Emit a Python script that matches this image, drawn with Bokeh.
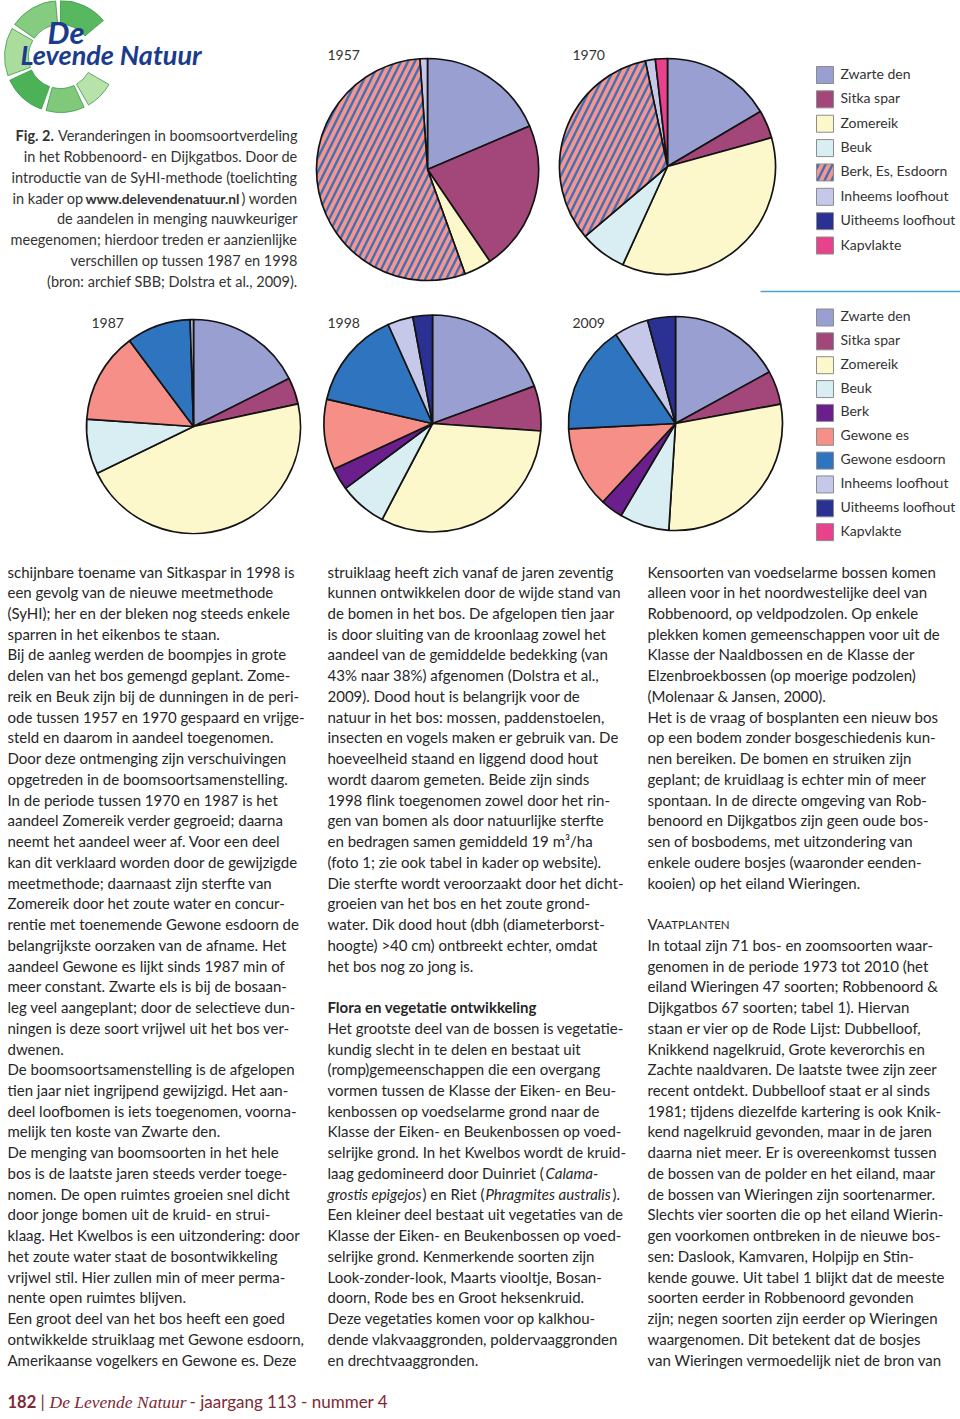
import numpy as np
from bokeh.plotting import figure
from bokeh.models import Range1d, ColumnDataSource
from bokeh.core.properties import value
from bokeh.embed import file_html
from bokeh.resources import INLINE

# ---------------- data ----------------
top_categories = ["Zwarte den", "Sitka spar", "Zomereik", "Beuk", "Berk, Es, Esdoorn",
                  "Inheems loofhout", "Uitheems loofhout", "Kapvlakte"]
top_colors = ["#9a9fd2", "#a3477a", "#fcf8cc", "#d9eef2", "#f4958f",
              "#c5c8e8", "#2a3192", "#e8428c"]
top_hatched = [False, False, False, False, True, False, False, False]
share_1957 = [18.6, 21.9, 4.0, 0.0, 54.4, 1.1, 0.0, 0.0]
share_1970 = [16.5, 4.2, 36.1, 7.0, 32.9, 1.5, 0.0, 1.8]

bottom_categories = ["Zwarte den", "Sitka spar", "Zomereik", "Beuk", "Berk", "Gewone es",
                     "Gewone esdoorn", "Inheems loofhout", "Uitheems loofhout", "Kapvlakte"]
bottom_colors = ["#9a9fd2", "#a3477a", "#fcf8cc", "#d9eef2", "#6a1f8c", "#f58f88",
                 "#2e74bf", "#c5c8e8", "#2a3192", "#e8428c"]
share_1987 = [17.6, 4.0, 46.2, 8.3, 0.0, 13.7, 9.7, 0.5, 0.0, 0.0]
share_1998 = [19.4, 6.7, 31.6, 7.1, 3.3, 10.5, 14.7, 3.8, 2.9, 0.0]
share_2009 = [17.0, 5.1, 28.9, 7.5, 3.4, 12.3, 16.4, 5.2, 4.2, 0.0]

caption_lines = [
    "Fig. 2. Veranderingen in boomsoortverdeling",
    "in het Robbenoord- en Dijkgatbos. Door de",
    "introductie van de SyHI-methode (toelichting",
    "in kader op www.delevendenatuur.nl) worden",
    "de aandelen in menging nauwkeuriger",
    "meegenomen; hierdoor treden er aanzienlijke",
    "verschillen op tussen 1987 en 1998",
    "(bron: archief SBB; Dolstra et al., 2009).",
]

col1_lines = [
    "schijnbare toename van Sitkaspar in 1998 is",
    "een gevolg van de nieuwe meetmethode",
    "(SyHI); her en der bleken nog steeds enkele",
    "sparren in het eikenbos te staan.",
    "Bij de aanleg werden de boompjes in grote",
    "delen van het bos gemengd geplant. Zome-",
    "reik en Beuk zijn bij de dunningen in de peri-",
    "ode tussen 1957 en 1970 gespaard en vrijge-",
    "steld en daarom in aandeel toegenomen.",
    "Door deze ontmenging zijn verschuivingen",
    "opgetreden in de boomsoortsamenstelling.",
    "In de periode tussen 1970 en 1987 is het",
    "aandeel Zomereik verder gegroeid; daarna",
    "neemt het aandeel weer af. Voor een deel",
    "kan dit verklaard worden door de gewijzigde",
    "meetmethode; daarnaast zijn sterfte van",
    "Zomereik door het zoute water en concur-",
    "rentie met toenemende Gewone esdoorn de",
    "belangrijkste oorzaken van de afname. Het",
    "aandeel Gewone es lijkt sinds 1987 min of",
    "meer constant. Zwarte els is bij de bosaan-",
    "leg veel aangeplant; door de selectieve dun-",
    "ningen is deze soort vrijwel uit het bos ver-",
    "dwenen.",
    "De boomsoortsamenstelling is de afgelopen",
    "tien jaar niet ingrijpend gewijzigd. Het aan-",
    "deel loofbomen is iets toegenomen, voorna-",
    "melijk ten koste van Zwarte den.",
    "De menging van boomsoorten in het hele",
    "bos is de laatste jaren steeds verder toege-",
    "nomen. De open ruimtes groeien snel dicht",
    "door jonge bomen uit de kruid- en strui-",
    "klaag. Het Kwelbos is een uitzondering: door",
    "het zoute water staat de bosontwikkeling",
    "vrijwel stil. Hier zullen min of meer perma-",
    "nente open ruimtes blijven.",
    "Een groot deel van het bos heeft een goed",
    "ontwikkelde struiklaag met Gewone esdoorn,",
    "Amerikaanse vogelkers en Gewone es. Deze",
]

col2_lines = [
    "struiklaag heeft zich vanaf de jaren zeventig",
    "kunnen ontwikkelen door de wijde stand van",
    "de bomen in het bos. De afgelopen tien jaar",
    "is door sluiting van de kroonlaag zowel het",
    "aandeel van de gemiddelde bedekking (van",
    "43% naar 38%) afgenomen (Dolstra et al.,",
    "2009). Dood hout is belangrijk voor de",
    "natuur in het bos: mossen, paddenstoelen,",
    "insecten en vogels maken er gebruik van. De",
    "hoeveelheid staand en liggend dood hout",
    "wordt daarom gemeten. Beide zijn sinds",
    "1998 flink toegenomen zowel door het rin-",
    "gen van bomen als door natuurlijke sterfte",
    "en bedragen samen gemiddeld 19 m³/ha",
    "(foto 1; zie ook tabel in kader op website).",
    "Die sterfte wordt veroorzaakt door het dicht-",
    "groeien van het bos en het zoute grond-",
    "water. Dik dood hout (dbh (diameterborst-",
    "hoogte) >40 cm) ontbreekt echter, omdat",
    "het bos nog zo jong is.",
    "",
    "Flora en vegetatie ontwikkeling",
    "Het grootste deel van de bossen is vegetatie-",
    "kundig slecht in te delen en bestaat uit",
    "(romp)gemeenschappen die een overgang",
    "vormen tussen de Klasse der Eiken- en Beu-",
    "kenbossen op voedselarme grond naar de",
    "Klasse der Eiken- en Beukenbossen op voed-",
    "selrijke grond. In het Kwelbos wordt de kruid-",
    "laag gedomineerd door Duinriet (Calama-",
    "grostis epigejos) en Riet (Phragmites australis).",
    "Een kleiner deel bestaat uit vegetaties van de",
    "Klasse der Eiken- en Beukenbossen op voed-",
    "selrijke grond. Kenmerkende soorten zijn",
    "Look-zonder-look, Maarts viooltje, Bosan-",
    "doorn, Rode bes en Groot heksenkruid.",
    "Deze vegetaties komen voor op kalkhou-",
    "dende vlakvaaggronden, poldervaaggronden",
    "en drechtvaaggronden.",
]

col3_lines = [
    "Kensoorten van voedselarme bossen komen",
    "alleen voor in het noordwestelijke deel van",
    "Robbenoord, op veldpodzolen. Op enkele",
    "plekken komen gemeenschappen voor uit de",
    "Klasse der Naaldbossen en de Klasse der",
    "Elzenbroekbossen (op moerige podzolen)",
    "(Molenaar & Jansen, 2000).",
    "Het is de vraag of bosplanten een nieuw bos",
    "op een bodem zonder bosgeschiedenis kun-",
    "nen bereiken. De bomen en struiken zijn",
    "geplant; de kruidlaag is echter min of meer",
    "spontaan. In de directe omgeving van Rob-",
    "benoord en Dijkgatbos zijn geen oude bos-",
    "sen of bosbodems, met uitzondering van",
    "enkele oudere bosjes (waaronder eenden-",
    "kooien) op het eiland Wieringen.",
    "",
    "Vaatplanten",
    "In totaal zijn 71 bos- en zoomsoorten waar-",
    "genomen in de periode 1973 tot 2010 (het",
    "eiland Wieringen 47 soorten; Robbenoord &",
    "Dijkgatbos 67 soorten; tabel 1). Hiervan",
    "staan er vier op de Rode Lijst: Dubbelloof,",
    "Knikkend nagelkruid, Grote keverorchis en",
    "Zachte naaldvaren. De laatste twee zijn zeer",
    "recent ontdekt. Dubbelloof staat er al sinds",
    "1981; tijdens diezelfde kartering is ook Knik-",
    "kend nagelkruid gevonden, maar in de jaren",
    "daarna niet meer. Er is overeenkomst tussen",
    "de bossen van de polder en het eiland, maar",
    "de bossen van Wieringen zijn soortenarmer.",
    "Slechts vier soorten die op het eiland Wierin-",
    "gen voorkomen ontbreken in de nieuwe bos-",
    "sen: Daslook, Kamvaren, Holpijp en Stin-",
    "kende gouwe. Uit tabel 1 blijkt dat de meeste",
    "soorten eerder in Robbenoord gevonden",
    "zijn; negen soorten zijn eerder op Wieringen",
    "waargenomen. Dit betekent dat de bosjes",
    "van Wieringen vermoedelijk niet de bron van",
]

# ---------------- figure ----------------
W, H = 960, 1419
p = figure(width=W, height=H, x_range=Range1d(0, W), y_range=Range1d(-H, 0),
           output_backend="svg", toolbar_location=None, min_border=0,
           x_axis_location=None, y_axis_location=None)
p.grid.grid_line_color = None
p.outline_line_color = None
p.background_fill_color = "white"
p.border_fill_color = "white"

FONT = value("Lato")
TXT = "#262626"
BODY = "15px"
HATCH = dict(hatch_pattern="/", hatch_color="#3f70b6", hatch_weight=2.4, hatch_scale=14.0)


def txt(xs, ys, texts, size=BODY, style="normal", align="left", color=TXT, font=FONT):
    p.text(x=list(xs), y=[-v for v in ys], text=list(texts), text_font=font,
           text_font_size=value(size), text_font_style=style, text_align=align,
           text_baseline="middle", text_color=color)


def draw_pie(cx, cy, r, shares, colors, hatched):
    frac = np.array(shares, float) / float(sum(shares))
    ends = np.cumsum(frac) * 2 * np.pi
    starts = ends - frac * 2 * np.pi
    sa = np.pi / 2 - ends
    ea = np.pi / 2 - starts
    n = len(frac)
    for hflag in (False, True):
        idx = [i for i in range(n) if frac[i] > 0 and hatched[i] == hflag]
        if not idx:
            continue
        src = ColumnDataSource(dict(x=[cx] * len(idx), y=[-cy] * len(idx),
                                    s=[sa[i] for i in idx], e=[ea[i] for i in idx],
                                    c=[colors[i] for i in idx]))
        kw = HATCH if hflag else {}
        p.wedge(x="x", y="y", radius=r, start_angle="s", end_angle="e", source=src,
                fill_color="c", line_color="#141414", line_width=1.7, **kw)


# ---------------- logo ----------------
ring_segments = [(40, 90), (95, 145), (150, 200), (205, 250), (255, 295), (300, 330)]
ring_colors = ["#58b860", "#86cc80", "#aadd9c", "#4cb257", "#80c97a", "#b7e2aa"]
for (a0, a1), c in zip(ring_segments, ring_colors):
    p.annular_wedge(x=60, y=-56, inner_radius=32, outer_radius=56,
                    start_angle=np.deg2rad(a0), end_angle=np.deg2rad(a1),
                    fill_color=c, line_color="#3a9a48", line_width=0.8)
txt([47], [31], ["De"], size="31px", style="bold italic", color="#1b3b8c")
txt([20], [54], ["Levende Natuur"], size="27px", style="bold italic", color="#1b3b8c")

# ---------------- caption ----------------
CAP = "14.5px"
CAPC = "#333333"
cap_y = [135 + i * 20.86 for i in range(len(caption_lines))]
txt([15], [cap_y[0]], ["Fig. 2."], size=CAP, style="bold", color=CAPC)
txt([297], [cap_y[0]], ["Veranderingen in boomsoortverdeling"], size=CAP,
    align="right", color=CAPC)
txt([12], [cap_y[3]], ["in kader op"], size=CAP, color=CAPC)
txt([85], [cap_y[3]], ["www.delevendenatuur.nl"], size="13.8px", style="bold", color=CAPC)
txt([297], [cap_y[3]], [") worden"], size=CAP, align="right", color=CAPC)
rest = [i for i in range(len(caption_lines)) if i not in (0, 3)]
txt([297] * len(rest), [cap_y[i] for i in rest], [caption_lines[i] for i in rest],
    size=CAP, align="right", color=CAPC)

# ---------------- pies ----------------
draw_pie(427, 169, 111, share_1957, top_colors, top_hatched)
draw_pie(667, 166, 108, share_1970, top_colors, top_hatched)
no_hatch = [False] * len(bottom_categories)
draw_pie(193, 426, 107, share_1987, bottom_colors, no_hatch)
draw_pie(432, 423, 108.5, share_1998, bottom_colors, no_hatch)
draw_pie(675, 423, 107, share_2009, bottom_colors, no_hatch)

txt([327, 572], [54, 54], ["1957", "1970"], size="14px", color=CAPC)
txt([91, 327, 572], [322, 322, 322], ["1987", "1998", "2009"], size="14px", color=CAPC)

# ---------------- legends ----------------
top_y = [74.5 + i * 24.36 for i in range(len(top_categories))]
plain = [i for i in range(len(top_categories)) if not top_hatched[i]]
p.rect(x=[824.5] * len(plain), y=[-top_y[i] for i in plain], width=17, height=17,
       fill_color=[top_colors[i] for i in plain], line_color="#8c8c8c", line_width=1)
hat = [i for i in range(len(top_categories)) if top_hatched[i]]
p.rect(x=[824.5] * len(hat), y=[-top_y[i] for i in hat], width=17, height=17,
       fill_color=[top_colors[i] for i in hat], line_color="#8c8c8c", line_width=1, **HATCH)
txt([840] * len(top_categories), [v - 1.5 for v in top_y], top_categories,
    size="14px", color=CAPC)

p.line(x=[760, 960], y=[-291, -291], line_color="#4aa3d8", line_width=1.6)

bot_y = [317 + i * 23.85 for i in range(len(bottom_categories))]
p.rect(x=[824.5] * len(bottom_categories), y=[-v for v in bot_y], width=17, height=17,
       fill_color=bottom_colors, line_color="#8c8c8c", line_width=1)
txt([840] * len(bottom_categories), [v - 2 for v in bot_y], bottom_categories,
    size="14px", color=CAPC)

# ---------------- body columns ----------------
LS = 20.74
Y0 = 571


def ly(i):
    return Y0 + i * LS


txt([7] * len(col1_lines), [ly(i) for i in range(len(col1_lines))], col1_lines)

special2 = {20, 21, 29, 30}
idx2 = [i for i in range(len(col2_lines)) if i not in special2]
txt([327] * len(idx2), [ly(i) for i in idx2], [col2_lines[i] for i in idx2])
txt([327], [ly(21)], [col2_lines[21]], style="bold")
txt([327], [ly(29)], ["laag gedomineerd door Duinriet ("])
txt([545], [ly(29)], ["Calama-"], style="italic")
txt([327], [ly(30)], ["grostis epigejos"], style="italic")
txt([422], [ly(30)], [") en Riet ("])
txt([485], [ly(30)], ["Phragmites australis"], style="italic")
txt([612], [ly(30)], [")."])

special3 = {16, 17}
idx3 = [i for i in range(len(col3_lines)) if i not in special3]
txt([647] * len(idx3), [ly(i) for i in idx3], [col3_lines[i] for i in idx3])
txt([647], [ly(17)], ["V"], size=BODY)
txt([656], [ly(17) + 0.5], ["AATPLANTEN"], size="11.5px")

# ---------------- footer ----------------
RED = "#7d2a35"
txt([7], [1401], ["182"], size="16.5px", style="bold", color=RED)
txt([40], [1401], ["|"], size="17px", color=RED)
txt([49], [1401], ["De Levende Natuur"], size="17.5px", style="italic", color=RED,
    font=value("Liberation Serif"))
txt([189], [1401], ["- jaargang 113 - nummer 4"], size="17px", color=RED)

open("out.html", "w").write(file_html(p, INLINE))
